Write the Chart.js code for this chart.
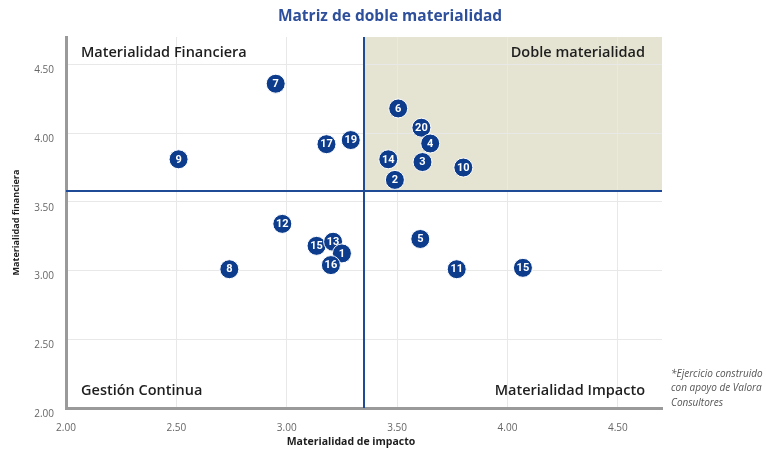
<!DOCTYPE html>
<html lang="es">
<head>
<meta charset="utf-8">
<title>Matriz de doble materialidad</title>
<script src="https://cdn.jsdelivr.net/npm/chart.js@4"></script>
<style>
  html, body { margin: 0; padding: 0; background: #fff; }
  #wrap { width: 766px; height: 453px; }
</style>
</head>
<body>
<div id="wrap"><canvas id="matriz"></canvas></div>
<script>
// temas materiales: número, materialidad de impacto (x), materialidad financiera (y)
const temas = ['7', '9', '17', '19', '12', '8', '15', '13', '1', '16', '6', '20', '4', '14', '3', '10', '2', '5', '11', '15'];
const impacto = [2.95, 2.51, 3.18, 3.29, 2.98, 2.74, 3.135, 3.21, 3.25, 3.20, 3.505, 3.61, 3.65, 3.46, 3.615, 3.80, 3.49, 3.605, 3.77, 4.07];
const financiera = [4.36, 3.81, 3.92, 3.95, 3.34, 3.01, 3.18, 3.21, 3.125, 3.04, 4.18, 4.04, 3.925, 3.81, 3.79, 3.75, 3.66, 3.23, 3.01, 3.02];

// cortes de los cuadrantes
const corteImpacto = 3.35;
const corteFinanciera = 3.58;

const ejeMin = 2.0;
const ejeMax = 4.7;

const cuadrantes = [
  { texto: 'Materialidad Financiera', x: 'izq', y: 'arriba' },
  { texto: 'Doble materialidad', x: 'der', y: 'arriba' },
  { texto: 'Gestión Continua', x: 'izq', y: 'abajo' },
  { texto: 'Materialidad Impacto', x: 'der', y: 'abajo' }
];

const titulo = 'Matriz de doble materialidad';
const tituloEjeX = 'Materialidad de impacto';
const nota = ['*Ejercicio construido', 'con apoyo de Valora', 'Consultores'];

const AZUL = '#0d3c8c';
const LINEA = '#1f4a96';

const puntos = impacto.map((v, i) => ({ x: v, y: financiera[i] }));

// sombreado del cuadrante de doble materialidad (debajo de la grilla)
const fondoCuadrante = {
  id: 'fondoCuadrante',
  beforeDraw(chart) {
    const { ctx, chartArea, scales } = chart;
    const x0 = scales.x.getPixelForValue(corteImpacto);
    const y0 = scales.y.getPixelForValue(corteFinanciera);
    ctx.save();
    ctx.fillStyle = '#e5e3d1';
    ctx.fillRect(x0, chartArea.top, chartArea.right - x0, y0 - chartArea.top);

    // título centrado en todo el lienzo
    ctx.fillStyle = '#2e4f9b';
    ctx.font = '700 15.5px "Open Sans"';
    ctx.textAlign = 'center';
    ctx.textBaseline = 'middle';
    ctx.fillText(titulo, chart.width / 2 + 7, 17);
    ctx.restore();
  }
};

// líneas de corte y textos fijos
const lineasCorte = {
  id: 'lineasCorte',
  beforeDatasetsDraw(chart) {
    const { ctx, chartArea, scales } = chart;
    const x0 = scales.x.getPixelForValue(corteImpacto);
    const y0 = scales.y.getPixelForValue(corteFinanciera);
    ctx.save();
    ctx.strokeStyle = LINEA;
    ctx.lineWidth = 2;
    ctx.beginPath();
    ctx.moveTo(chartArea.left, y0);
    ctx.lineTo(chartArea.right, y0);
    ctx.moveTo(x0, chartArea.top);
    ctx.lineTo(x0, chartArea.bottom);
    ctx.stroke();

    ctx.fillStyle = '#1e1e1e';
    ctx.font = '600 14.5px "Open Sans"';
    ctx.textBaseline = 'middle';
    cuadrantes.forEach(q => {
      const px = q.x === 'izq' ? chartArea.left + 15 : chartArea.right - 17;
      const py = q.y === 'arriba' ? chartArea.top + 16 : chartArea.bottom - 17;
      ctx.textAlign = q.x === 'izq' ? 'left' : 'right';
      ctx.fillText(q.texto, px, py);
    });

    // título del eje x
    ctx.font = '700 10.5px "Open Sans"';
    ctx.textAlign = 'center';
    ctx.fillText(tituloEjeX, chartArea.left + 285, chartArea.bottom + 34);

    // nota al pie
    ctx.fillStyle = '#555';
    ctx.font = 'italic 10px "Open Sans"';
    ctx.textAlign = 'left';
    nota.forEach((l, i) => ctx.fillText(l, chartArea.right + 9, chartArea.bottom - 34 + i * 14.5));
    ctx.restore();
  }
};

// número del tema dentro de cada marcador
const numeros = {
  id: 'numeros',
  afterDatasetsDraw(chart) {
    const { ctx } = chart;
    const meta = chart.getDatasetMeta(0);
    ctx.save();
    ctx.fillStyle = '#fff';
    ctx.font = '700 11px Roboto';
    ctx.textAlign = 'center';
    ctx.textBaseline = 'middle';
    meta.data.forEach((p, i) => {
      ctx.fillText(temas[i], p.x, p.y + 0.5);
    });
    ctx.restore();
  }
};

new Chart(document.getElementById('matriz'), {
  type: 'scatter',
  data: {
    datasets: [{
      data: puntos,
      pointRadius: 9.5,
      pointHoverRadius: 9.5,
      backgroundColor: AZUL,
      borderColor: '#ffffff',
      borderWidth: 1
    }]
  },
  options: {
    responsive: true,
    maintainAspectRatio: false,
    animation: false,
    layout: { padding: { left: 0, right: 104, top: 37, bottom: 0 } },
    plugins: {
      legend: { display: false },
      tooltip: { enabled: false },
      title: { display: false }
    },
    scales: {
      x: {
        type: 'linear',
        min: ejeMin,
        max: ejeMax,
        afterFit: s => { s.height = 45; },
        grid: { color: '#e8e8e8', lineWidth: 1, drawTicks: false },
        border: { color: '#9a9a9a', width: 3 },
        ticks: {
          stepSize: 0.5,
          includeBounds: false,
          padding: 14,
          color: '#666',
          font: { family: '"Open Sans"', size: 10 },
          callback: v => v.toFixed(2)
        }
      },
      y: {
        type: 'linear',
        min: ejeMin,
        max: ejeMax,
        afterFit: s => { s.width = 66; },
        grid: { color: '#e8e8e8', lineWidth: 1, drawTicks: false },
        border: { color: '#9a9a9a', width: 3 },
        ticks: {
          stepSize: 0.5,
          includeBounds: false,
          padding: 12,
          labelOffset: 6,
          color: '#666',
          font: { family: '"Open Sans"', size: 10 },
          callback: v => v.toFixed(2)
        },
        title: {
          display: true,
          text: 'Materialidad financiera',
          color: '#1e1e1e',
          font: { family: '"Open Sans"', size: 9, weight: '700' },
          padding: { top: 11, bottom: 0 }
        }
      }
    }
  },
  plugins: [fondoCuadrante, lineasCorte, numeros]
});
</script>
</body>
</html>
